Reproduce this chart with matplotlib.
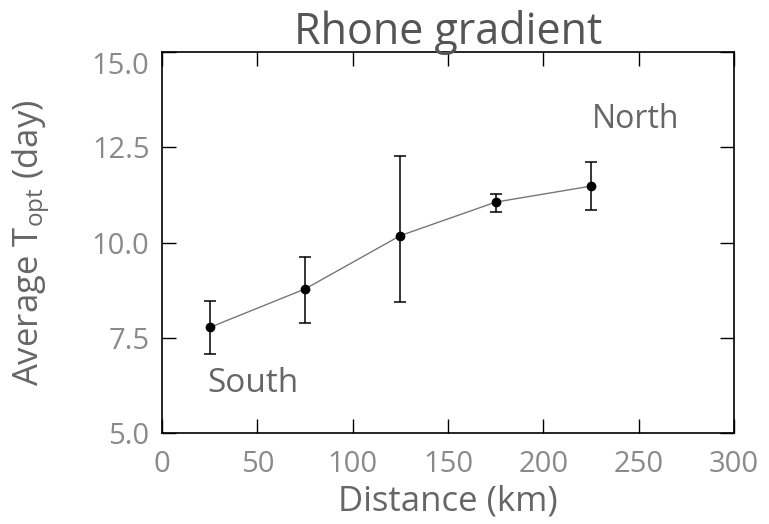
import numpy as np
import matplotlib
matplotlib.use('Agg')
import matplotlib.pyplot as plt

# distance along the Rhone (km) and average T_opt (day)
distance = [25, 75, 125, 175, 225]
t_opt = [7.77, 8.78, 10.18, 11.06, 11.48]
err_low = [7.07, 7.89, 8.45, 10.80, 10.85]
err_high = [8.47, 9.62, 12.27, 11.27, 12.12]

x_ticks = [0, 50, 100, 150, 200, 250, 300]
y_ticks = [5.0, 7.5, 10.0, 12.5, 15.0]

plt.rcParams['font.family'] = ['Open Sans', 'DejaVu Sans']
plt.rcParams['mathtext.fontset'] = 'custom'
plt.rcParams['mathtext.rm'] = 'Open Sans'
plt.rcParams['mathtext.it'] = 'Open Sans'

fig = plt.figure(figsize=(7.69, 5.24), dpi=100)
ax = fig.add_axes([162 / 769, 91 / 524, 572 / 769, 381 / 524])

t = np.array(t_opt)
yerr = [t - np.array(err_low), np.array(err_high) - t]

ax.plot(distance, t_opt, color='#777777', lw=1.0, zorder=2)
ax.errorbar(distance, t_opt, yerr=yerr, fmt='none', ecolor='black',
            elinewidth=1.1, capsize=4, capthick=1.1, zorder=3)
ax.plot(distance, t_opt, 'o', color='black', markersize=6, zorder=4)

ax.text(24, 6.31, 'South', fontsize=24, color='#666666',
        ha='left', va='center')
ax.text(225.5, 13.24, 'North', fontsize=23, color='#666666',
        ha='left', va='center')

ax.set_xlim(0, 300)
ax.set_ylim(5, 15)
ax.set_xticks(x_ticks)
ax.set_xticklabels([str(v) for v in x_ticks])
ax.set_yticks(y_ticks)
ax.set_yticklabels([f'{v:.1f}' for v in y_ticks])

ax.tick_params(direction='in', length=10, width=1.0, top=True, right=True,
               labelsize=21, labelcolor='#8a8a8a')
ax.tick_params(axis='x', pad=12)
ax.tick_params(axis='y', pad=9)
# IDL-style: top y label sits below its tick
ax.get_yticklabels()[-1].set_verticalalignment('top')

for s in ax.spines.values():
    s.set_linewidth(1.2)
    s.set_color('black')

ax.set_title('Rhone gradient', fontsize=31, color='#555555', pad=6)
ax.set_xlabel('Distance (km)', fontsize=25, color='#666666')
ax.set_ylabel('Average T$_{\\mathrm{opt}}$ (day)', fontsize=25, color='#666666')
ax.xaxis.set_label_coords(0.5, -0.135)
ax.yaxis.set_label_coords(-0.19, 0.5)

fig.savefig('out.png', dpi=100)
